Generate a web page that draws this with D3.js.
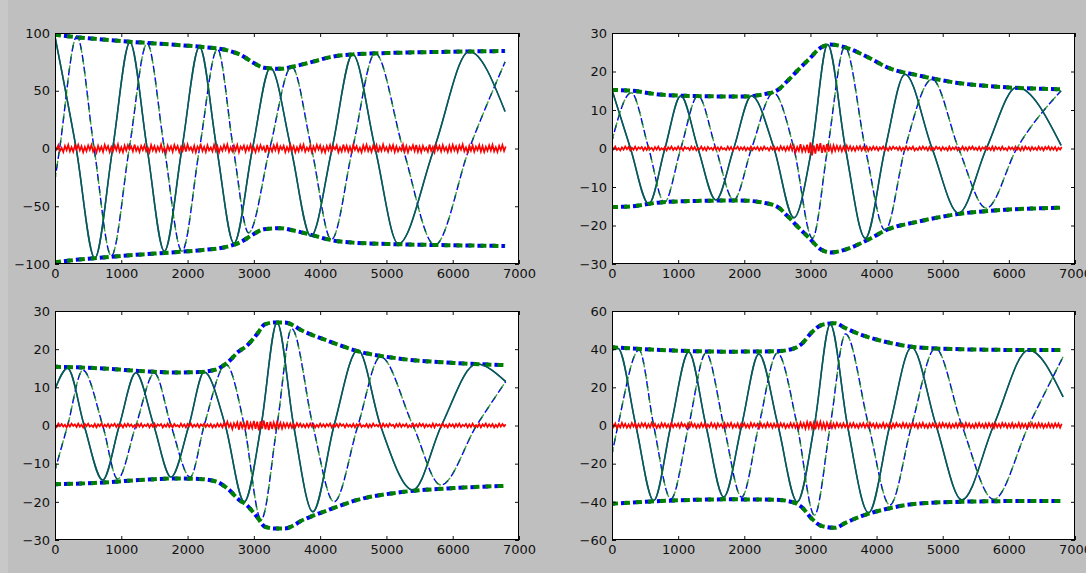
<!DOCTYPE html>
<html>
<head>
<meta charset="utf-8">
<script src="https://cdn.jsdelivr.net/npm/d3@7"></script>
<style>
  body { margin: 0; background: #bfbfbf; }
  svg { display: block; }
</style>
</head>
<body>
<div id="chart"></div>
<script>
// ---- data ----
var xTicks = [0, 1000, 2000, 3000, 4000, 5000, 6000, 7000];
var tlYTicks = [-100, -50, 0, 50, 100];
var trYTicks = [-30, -20, -10, 0, 10, 20, 30];
var blYTicks = [-30, -20, -10, 0, 10, 20, 30];
var brYTicks = [-60, -40, -20, 0, 20, 40, 60];

// solid (real part) and dashed (imag part): [x, value] at extrema and zero crossings
var tlSolid = [[0,97],[320,0],[600,-95],[870,0],[1130,92],[1390,0],[1650,-89],[1915,0],[2180,88],[2440,0],[2700,-82],[2980,0],[3250,70],[3560,0],[3860,-76],[4180,0],[4490,81.5],[4830,0],[5180,-82.5],[5720,0],[6250,84],[6790,32]];
var tlDashed = [[0,-27],[70,0],[330,97],[590,0],[850,-93],[1120,0],[1390,91],[1650,0],[1915,-89],[2180,0],[2450,86],[2690,0],[2920,-73],[3240,0],[3570,71],[3870,0],[4170,-79],[4490,0],[4830,82.5],[5250,0],[5730,-83.5],[6250,0],[6790,75]];
var tlEnv = [[0,98.5],[300,96.5],[600,95],[1000,93],[1500,91],[2000,89],[2200,88],[2600,85],[2800,81],[3000,74],[3150,70],[3400,69],[3600,71],[3880,75],[4180,79.5],[4500,81.5],[5250,83],[6000,83.8],[6790,84.4]];

var trSolid = [[0,15.2],[280,0],[555,-14.4],[800,0],[1040,13.7],[1300,0],[1570,-13.4],[1840,0],[2110,13.7],[2450,0],[2750,-18],[3020,0],[3260,27],[3530,0],[3830,-23.3],[4130,0],[4430,19.3],[4840,0],[5240,-16.8],[5660,0],[6120,15.9],[6790,0.8]];
var trDashed = [[0,2],[290,14.5],[555,0],[790,-14],[1040,0],[1300,13.7],[1570,0],[1840,-13.4],[2110,0],[2440,14.5],[2750,0],[3030,-23.3],[3260,0],[3520,26.4],[3830,0],[4130,-21.2],[4430,0],[4840,18],[5240,0],[5660,-15.5],[6120,0],[6790,15]];
var trEnv = [[0,15.2],[300,15],[730,14],[1330,13.6],[1930,13.5],[2330,14.2],[2530,15.5],[2650,17.5],[2790,20],[2990,23.4],[3140,26],[3300,27],[3540,26.2],[3800,24.3],[4200,20.8],[4600,19.1],[5200,17.1],[5960,15.9],[6790,15.4]];

var blSolid = [[0,9.5],[190,15],[440,0],[720,-14.3],[970,0],[1220,13.8],[1490,0],[1750,-13.5],[2020,0],[2250,14],[2570,0],[2855,-20],[3110,0],[3350,27],[3600,0],[3890,-22.6],[4210,0],[4570,19.8],[4910,0],[5400,-16.9],[5830,0],[6360,16.1],[6800,11.5]];
var blDashed = [[0,-11.7],[190,0],[420,14.5],[720,0],[945,-14],[1220,0],[1500,13.7],[1750,0],[2040,-13.5],[2250,0],[2580,16],[2855,0],[3110,-24.7],[3350,0],[3570,25.4],[3890,0],[4210,-20],[4570,0],[4910,18],[5400,0],[5820,-15.6],[6360,0],[6800,11.5]];
var blEnv = [[0,15.4],[665,15],[1265,14.3],[1800,13.9],[2165,14],[2415,14.6],[2615,16.7],[2765,19.3],[2900,21],[3050,24],[3165,26.5],[3315,27],[3460,27],[3760,24.6],[4160,21.9],[4560,19.5],[5160,17.6],[6010,16.4],[6800,15.8]];

var brSolid = [[0,39.5],[90,40.5],[360,0],[630,-39.4],[890,0],[1160,38.5],[1420,0],[1690,-37.5],[1960,0],[2220,37.5],[2510,0],[2800,-40],[3060,0],[3300,53],[3560,0],[3880,-45.7],[4200,0],[4530,41],[4900,0],[5290,-39],[5770,0],[6300,39.6],[6820,15]];
var brDashed = [[0,-15],[90,0],[410,39.5],[630,0],[890,-38.5],[1160,0],[1420,38],[1690,0],[1960,-37.5],[2220,0],[2500,38],[2800,0],[3060,-47],[3300,0],[3530,48],[3880,0],[4200,-41.7],[4530,0],[4890,40.5],[5290,0],[5770,-38.7],[6300,0],[6820,36]];
var brEnv = [[0,41],[725,39.6],[1725,38.7],[2475,38.9],[2725,40.1],[2875,43],[3025,49],[3175,52.7],[3375,53.6],[3530,51],[3780,47.4],[4130,43.9],[4530,41.3],[5130,40.1],[6130,39.6],[6820,39.6]];

// red error traces, one value every noiseStep (20 values = 500 on the x axis)
var noiseStep = 25;
var tlNoise = [
  1.8,-0.9,2.9,-2.1,0.6,-3.0,2.2,-1.4,3.1,-2.5,1.1,-2.8,2.6,-0.8,3.3,-1.7,2.0,-3.2,1.4,-2.3,
  2.7,-1.2,3.0,-2.6,0.9,-3.4,2.4,-1.9,1.6,-2.9,3.2,-1.1,2.1,-3.1,1.3,-2.2,2.8,-1.5,3.5,-2.7,
  1.0,-3.3,2.5,-1.8,2.9,-0.7,1.7,-2.6,3.4,-2.0,1.2,-3.0,2.3,-1.3,2.7,-2.4,0.8,-3.2,3.0,-1.6,
  2.0,-2.8,1.5,-1.9,3.3,-2.5,0.7,-3.4,2.6,-1.4,1.9,-2.9,3.1,-1.0,2.2,-3.1,1.4,-2.1,2.8,-2.6,
  3.5,-1.3,1.1,-2.7,2.4,-3.3,1.8,-0.9,3.0,-2.2,1.5,-3.0,2.7,-1.7,0.9,-2.5,3.2,-1.9,2.1,-3.4,
  1.3,-2.0,2.9,-1.2,3.4,-2.8,1.0,-2.3,2.5,-1.6,3.1,-3.1,1.7,-0.8,2.6,-2.7,2.0,-1.5,3.3,-2.4,
  0.8,-3.2,2.3,-1.9,2.8,-1.1,1.6,-3.5,3.0,-2.0,1.2,-2.6,2.7,-1.4,3.5,-2.9,1.9,-0.9,2.4,-3.0,
  1.4,-2.2,3.1,-1.7,2.0,-3.3,1.1,-2.4,2.9,-1.3,3.3,-2.8,0.9,-1.8,2.5,-3.1,1.8,-2.1,3.2,-1.0,
  2.6,-2.9,1.3,-3.4,2.2,-1.5,3.0,-2.3,1.7,-0.8,2.8,-3.2,1.0,-2.6,3.4,-1.9,2.3,-2.7,1.5,-3.0,
  3.1,-1.2,2.0,-2.5,0.7,-3.3,2.7,-1.6,3.2,-2.2,1.4,-2.9,2.4,-1.1,2.9,-3.4,1.6,-2.0,3.5,-1.7,
  1.2,-2.8,2.6,-1.4,3.0,-3.0,1.9,-2.4,0.9,-1.8,3.3,-2.6,2.1,-3.3,1.5,-1.0,2.8,-2.2,3.1,-2.9,
  1.7,-3.1,2.4,-1.5,0.8,-2.7,3.4,-2.0,1.3,-3.2,2.9,-1.3,2.2,-2.5,3.0,-1.8,1.1,-3.0,2.5,-2.3,
  3.2,-1.6,1.9,-2.9,2.6,-1.1,3.5,-2.4,1.0,-3.3,2.3,-1.9,2.7,-2.8,1.6,-1.4,3.0,-2.6,2.1,-3.1,
  1.5,-2.0,2.8,-1.7,3.3,-2.5,1.2,-2.9,2.4,-1.5,3.0,-2.2,1.8];
var trNoise = [
  0.4,-0.2,0.5,-0.4,0.1,-0.5,0.3,-0.3,0.5,-0.2,0.4,-0.5,0.2,-0.3,0.5,-0.4,0.3,-0.1,0.4,-0.5,
  0.3,-0.4,0.5,-0.2,0.2,-0.5,0.4,-0.3,0.5,-0.4,0.1,-0.3,0.4,-0.5,0.3,-0.2,0.5,-0.4,0.2,-0.3,
  0.5,-0.3,0.3,-0.5,0.4,-0.1,0.2,-0.4,0.5,-0.3,0.4,-0.5,0.1,-0.2,0.5,-0.4,0.3,-0.5,0.4,-0.2,
  0.2,-0.4,0.5,-0.3,0.3,-0.5,0.4,-0.2,0.1,-0.4,0.5,-0.3,0.4,-0.5,0.2,-0.1,0.5,-0.4,0.3,-0.3,
  0.4,-0.5,0.2,-0.3,0.5,-0.4,0.3,-0.2,0.4,-0.5,0.3,-0.4,0.5,-0.2,0.2,-0.5,0.4,-0.3,0.5,-0.4,
  0.3,-0.5,0.6,-0.3,0.4,-0.6,0.5,-0.4,0.9,-0.5,0.7,-1.0,0.4,-0.6,1.1,-0.8,0.5,-0.7,1.0,-1.2,
  1.6,-1.8,0.8,-1.3,1.2,-0.7,1.4,-1.1,0.9,-1.0,1.1,-0.8,0.7,-0.9,0.8,-0.6,0.7,-0.5,0.6,-0.7,
  0.5,-0.6,0.7,-0.4,0.6,-0.5,0.4,-0.6,0.5,-0.3,0.6,-0.5,0.4,-0.4,0.5,-0.6,0.3,-0.4,0.5,-0.3,
  0.4,-0.5,0.3,-0.2,0.5,-0.4,0.2,-0.5,0.4,-0.3,0.5,-0.1,0.3,-0.4,0.4,-0.5,0.2,-0.3,0.5,-0.4,
  0.3,-0.2,0.5,-0.5,0.1,-0.4,0.4,-0.3,0.5,-0.2,0.3,-0.5,0.4,-0.4,0.2,-0.3,0.5,-0.1,0.3,-0.5,
  0.4,-0.3,0.2,-0.5,0.5,-0.4,0.3,-0.2,0.4,-0.5,0.1,-0.3,0.5,-0.4,0.3,-0.5,0.4,-0.2,0.5,-0.3,
  0.2,-0.4,0.4,-0.5,0.3,-0.1,0.5,-0.3,0.2,-0.4,0.5,-0.5,0.4,-0.2,0.3,-0.4,0.5,-0.3,0.1,-0.5,
  0.4,-0.2,0.3,-0.4,0.5,-0.3,0.2,-0.5,0.4,-0.4,0.5,-0.2,0.3,-0.5,0.4,-0.3,0.2,-0.4,0.5,-0.3,
  0.3,-0.5,0.4,-0.2,0.5,-0.4,0.3,-0.3,0.4,-0.5,0.2,-0.3,0.4];
var blNoise = [
  0.3,-0.4,0.5,-0.2,0.4,-0.3,0.2,-0.5,0.4,-0.3,0.5,-0.1,0.3,-0.4,0.5,-0.3,0.2,-0.5,0.4,-0.2,
  0.5,-0.3,0.1,-0.4,0.4,-0.5,0.3,-0.2,0.5,-0.4,0.2,-0.3,0.4,-0.5,0.3,-0.1,0.5,-0.4,0.3,-0.3,
  0.2,-0.5,0.4,-0.3,0.5,-0.2,0.3,-0.4,0.1,-0.5,0.4,-0.3,0.5,-0.4,0.2,-0.2,0.4,-0.5,0.3,-0.3,
  0.5,-0.4,0.3,-0.1,0.4,-0.5,0.2,-0.3,0.5,-0.4,0.3,-0.5,0.4,-0.2,0.1,-0.4,0.5,-0.3,0.3,-0.5,
  0.4,-0.2,0.5,-0.4,0.2,-0.3,0.4,-0.5,0.3,-0.1,0.5,-0.4,0.3,-0.3,0.4,-0.5,0.2,-0.4,0.5,-0.3,
  0.4,-0.5,0.6,-0.3,1.0,-0.4,0.5,-0.9,0.6,-0.4,0.8,-1.1,1.0,-0.6,0.5,-0.8,1.3,-1.0,0.6,-0.7,
  1.2,-0.9,1.0,-1.3,1.1,-0.8,1.3,-1.0,0.9,-1.2,1.0,-0.9,0.8,-0.7,0.9,-0.6,0.7,-0.8,0.6,-0.5,
  0.6,-0.5,0.5,-0.6,0.4,-0.5,0.6,-0.3,0.5,-0.4,0.3,-0.5,0.4,-0.4,0.5,-0.3,0.4,-0.5,0.2,-0.4,
  0.5,-0.3,0.3,-0.4,0.4,-0.2,0.5,-0.5,0.2,-0.3,0.4,-0.4,0.5,-0.1,0.3,-0.5,0.4,-0.3,0.2,-0.4,
  0.4,-0.5,0.3,-0.2,0.5,-0.4,0.1,-0.3,0.4,-0.5,0.3,-0.4,0.5,-0.2,0.2,-0.3,0.4,-0.5,0.5,-0.3,
  0.3,-0.4,0.5,-0.1,0.2,-0.5,0.4,-0.3,0.5,-0.4,0.3,-0.2,0.4,-0.5,0.1,-0.4,0.5,-0.3,0.3,-0.4,
  0.5,-0.2,0.4,-0.5,0.3,-0.3,0.2,-0.4,0.5,-0.5,0.4,-0.1,0.3,-0.4,0.5,-0.3,0.2,-0.5,0.4,-0.2,
  0.3,-0.5,0.4,-0.3,0.5,-0.4,0.2,-0.2,0.4,-0.5,0.3,-0.4,0.5,-0.3,0.1,-0.4,0.4,-0.5,0.3,-0.2,
  0.5,-0.4,0.3,-0.3,0.4,-0.5,0.2,-0.4,0.5,-0.3,0.4,-0.2,0.3];
var brNoise = [
  1.6,-0.7,1.1,-1.3,0.5,-1.0,1.4,-0.8,0.9,-1.2,0.6,-1.1,1.3,-0.6,1.0,-1.4,0.8,-0.9,1.2,-0.5,
  1.1,-1.2,0.7,-1.0,1.4,-0.8,0.9,-1.3,0.5,-1.1,1.2,-0.7,1.0,-1.0,0.6,-1.3,1.3,-0.9,0.8,-0.6,
  1.0,-1.1,1.3,-0.5,0.7,-1.2,1.1,-0.9,1.4,-0.7,0.8,-1.3,0.6,-1.0,1.2,-0.8,1.0,-1.2,0.5,-0.9,
  1.3,-0.8,0.9,-1.4,1.1,-0.6,0.7,-1.1,1.2,-1.0,1.0,-0.7,1.4,-1.2,0.6,-0.9,1.1,-1.3,0.8,-0.5,
  1.2,-1.0,0.6,-1.2,1.3,-0.8,1.0,-0.6,0.8,-1.3,1.1,-0.9,0.7,-1.1,1.4,-0.7,0.9,-1.2,1.0,-0.8,
  0.8,-1.1,1.2,-0.7,1.0,-1.3,0.6,-1.0,1.3,-0.9,1.1,-1.2,0.9,-1.4,1.5,-1.0,1.2,-1.6,1.8,-1.3,
  2.1,-1.5,1.4,-2.0,1.7,-1.2,1.9,-1.6,1.3,-1.8,1.5,-1.1,1.2,-1.3,1.0,-1.2,1.3,-0.8,0.9,-1.1,
  1.2,-0.9,0.7,-1.3,1.1,-0.8,1.3,-1.0,0.6,-1.2,1.0,-0.7,1.2,-1.1,0.8,-1.0,1.4,-0.6,0.9,-1.3,
  1.0,-1.1,0.6,-0.9,1.3,-1.2,0.8,-0.7,1.1,-1.3,0.9,-1.0,1.2,-0.6,0.7,-1.1,1.3,-0.9,1.0,-1.2,
  0.8,-1.0,1.2,-0.7,0.9,-1.3,1.1,-0.8,1.4,-1.0,0.6,-1.2,1.0,-0.9,1.2,-0.6,0.8,-1.3,1.1,-1.0,
  1.3,-0.7,0.9,-1.1,1.0,-1.2,0.7,-0.9,1.2,-1.0,1.1,-0.6,0.8,-1.3,1.3,-0.8,1.0,-1.1,0.6,-1.2,
  1.1,-0.9,1.3,-0.8,0.7,-1.2,1.0,-1.0,1.2,-0.7,0.9,-1.3,1.1,-0.9,0.8,-1.1,1.3,-0.6,1.0,-1.2,
  0.9,-1.0,1.2,-1.1,0.6,-0.8,1.3,-1.2,1.0,-0.9,0.8,-1.3,1.1,-0.7,1.2,-1.0,0.9,-1.1,1.3,-0.8,
  1.0,-1.2,0.7,-0.9,1.2,-1.0,0.8,-1.1,1.1,-0.7,1.0,-1.2,0.9];

// ---- layout ----
var full_width = 1086, full_height = 573;

var svg = d3.select("#chart")
  .append("svg")
    .attr("width", full_width)
    .attr("height", full_height);

svg.append("rect")
  .attr("width", full_width)
  .attr("height", full_height)
  .attr("fill", "#bfbfbf");
svg.append("rect")
  .attr("width", 8)
  .attr("height", full_height)
  .attr("fill", "#c8c8c8");

var panels = [
  {left: 55, top: 33, right: 519, bottom: 264, yDomain: [-100, 100], yTicks: tlYTicks, solid: tlSolid, dashed: tlDashed, env: tlEnv, noise: tlNoise},
  {left: 612, top: 33, right: 1075, bottom: 264, yDomain: [-30, 30], yTicks: trYTicks, solid: trSolid, dashed: trDashed, env: trEnv, noise: trNoise},
  {left: 55, top: 311, right: 519, bottom: 540, yDomain: [-30, 30], yTicks: blYTicks, solid: blSolid, dashed: blDashed, env: blEnv, noise: blNoise},
  {left: 612, top: 311, right: 1075, bottom: 540, yDomain: [-60, 60], yTicks: brYTicks, solid: brSolid, dashed: brDashed, env: brEnv, noise: brNoise}
];

panels.forEach(drawPanel);

function drawPanel(p, i) {
  var width = p.right - p.left;
  var height = p.bottom - p.top;

  var g = svg.append("g")
    .attr("transform", "translate(" + p.left + "," + p.top + ")");

  var x = d3.scaleLinear().domain([0, 7000]).range([0, width]);
  var y = d3.scaleLinear().domain(p.yDomain).range([height, 0]);

  g.append("rect")
    .attr("width", width)
    .attr("height", height)
    .attr("fill", "white");

  svg.append("clipPath")
    .attr("id", "clip" + i)
    .append("rect")
      .attr("width", width)
      .attr("height", height);

  var plot = g.append("g").attr("clip-path", "url(#clip" + i + ")");

  var smooth = d3.line()
    .x(d => x(d[0]))
    .y(d => y(d[1]))
    .curve(d3.curveMonotoneX);
  var noisy = d3.line()
    .x((d, k) => x(k * noiseStep))
    .y(d => y(d));

  var lowerEnv = p.env.map(d => [d[0], -d[1]]);

  // first method in blue, second in green on top of it
  [{c: "#0000ff", op: 1, off: 3}, {c: "#008000", op: 0.75, off: 0}].forEach(function(s) {
    plot.append("path")
      .attr("d", smooth(p.solid))
      .attr("fill", "none")
      .attr("stroke", s.c)
      .attr("stroke-opacity", s.op)
      .attr("stroke-width", 1.5);
    plot.append("path")
      .attr("d", smooth(p.dashed))
      .attr("fill", "none")
      .attr("stroke", s.c)
      .attr("stroke-opacity", s.op)
      .attr("stroke-width", 1.4)
      .attr("stroke-dasharray", "7,5")
      .attr("stroke-dashoffset", s.off);
    [p.env, lowerEnv].forEach(function(e) {
      plot.append("path")
        .attr("d", smooth(e))
        .attr("fill", "none")
        .attr("stroke", s.c)
        .attr("stroke-width", 4)
        .attr("stroke-dasharray", "6,6")
        .attr("stroke-dashoffset", s.off);
    });
  });

  plot.append("path")
    .attr("d", noisy(p.noise))
    .attr("fill", "none")
    .attr("stroke", "#ff0000")
    .attr("stroke-width", 1.7);

  var fmt = d3.format("d");

  // Add X axis (ticks point inward, as in the classic style)
  g.append("g")
    .attr("transform", "translate(0," + height + ")")
    .call(d3.axisBottom(x).tickValues(xTicks).tickSize(-4).tickPadding(5).tickFormat(fmt))
    .call(styleAxis);
  g.append("g")
    .call(d3.axisTop(x).tickValues(xTicks).tickSize(-4).tickFormat(""))
    .call(styleAxis);

  // Add Y axis
  g.append("g")
    .call(d3.axisLeft(y).tickValues(p.yTicks).tickSize(-4).tickPadding(5).tickFormat(fmt))
    .call(styleAxis);
  g.append("g")
    .attr("transform", "translate(" + width + ",0)")
    .call(d3.axisRight(y).tickValues(p.yTicks).tickSize(-4).tickFormat(""))
    .call(styleAxis);

  g.append("rect")
    .attr("x", 0.5)
    .attr("y", 0.5)
    .attr("width", width - 1)
    .attr("height", height - 1)
    .attr("fill", "none")
    .attr("stroke", "#000")
    .attr("stroke-width", 1);
}

function styleAxis(sel) {
  sel.select(".domain").remove();
  sel.attr("font-family", "'DejaVu Sans', sans-serif")
    .attr("font-size", 13)
    .attr("color", "#111");
}
</script>
</body>
</html>
